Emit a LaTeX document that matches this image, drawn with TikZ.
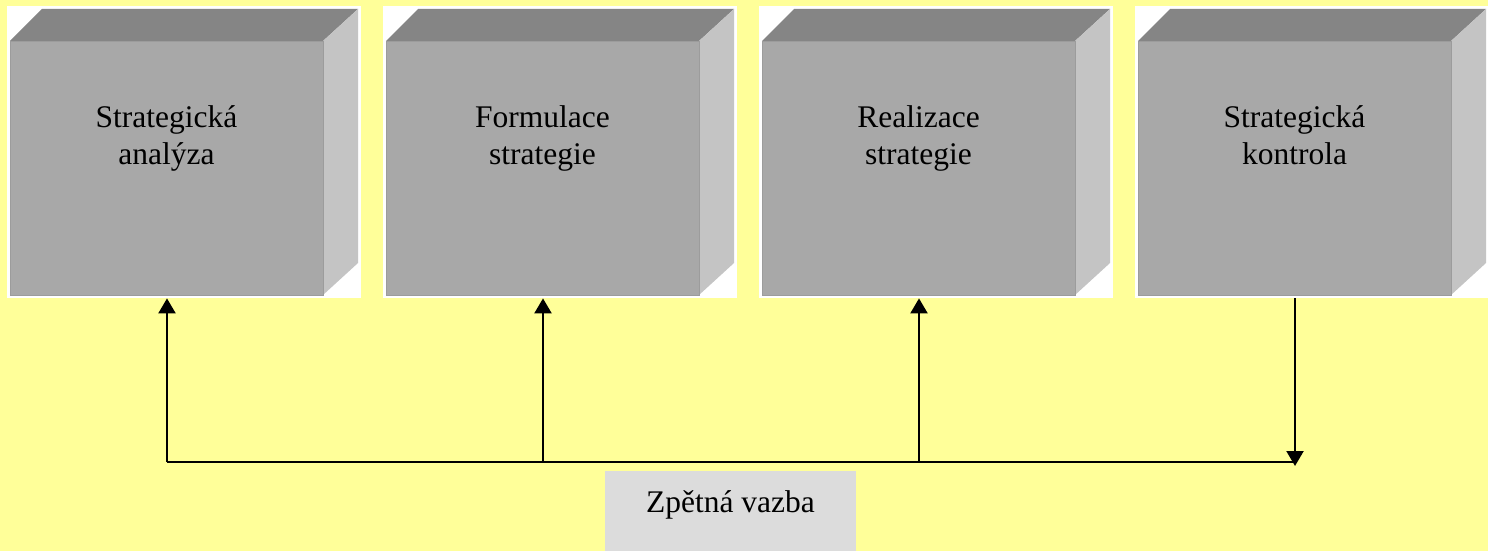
\documentclass[tikz,border=0pt]{standalone}
\usepackage{fontspec}
\setmainfont{Liberation Serif}
\usetikzlibrary{arrows.meta}
\definecolor{bg}{HTML}{FFFF99}
\definecolor{topc}{HTML}{858585}
\definecolor{frontc}{HTML}{A8A8A8}
\definecolor{sidec}{HTML}{C4C4C4}
\definecolor{edgec}{HTML}{9C9C9C}
\definecolor{fbc}{HTML}{DCDCDC}
\tikzset{
  whitebox/.style={fill=white, draw=none, minimum width=354pt, minimum height=292pt, anchor=north west, inner sep=0pt},
  frontface/.style={fill=frontc, draw=edgec, line width=1pt, minimum width=313pt, minimum height=254pt, anchor=north west, inner sep=0pt},
  topface/.style={fill=topc, draw=none},
  sideface/.style={fill=sidec, draw=none},
  boxtext/.style={font=\fontsize{31.5}{36.5}\selectfont, align=center, anchor=base, inner sep=0pt},
  conn/.style={line width=2.2pt, draw=black},
  arr/.style={conn, -{Triangle[width=17pt,length=15pt]}},
  fbbox/.style={fill=fbc, draw=none, minimum width=251pt, minimum height=80pt, anchor=north, inner sep=0pt},
}
\begin{document}
\begin{tikzpicture}[x=1pt,y=-1pt]
\useasboundingbox (0,0) rectangle (1488,551);
\fill[bg] (0,0) rectangle (1488,551);
\foreach \i/\t in {1/{Strategická\\analýza},2/{Formulace\\strategie},3/{Realizace\\strategie},4/{Strategická\\kontrola}}{
  \pgfmathsetmacro{\X}{376*(\i-1)}
  \node[whitebox] (w\i) at (\X+7,6) {};
  \fill[topc] (\X+10,41) -- (\X+42,9) -- (\X+358,9) -- (\X+323,41) -- cycle;
  \fill[sidec] (\X+323,41) -- (\X+358,9) -- (\X+358,263) -- (\X+323,295) -- cycle;
  \node[frontface] (b\i) at (\X+10,41) {};
  \node[boxtext] (t\i) at (\X+166.5,164) {\t};
}
\coordinate (bus) at (0,462);
\draw[conn] (b1.south|-bus) -- (b4.south|-bus);
\draw[arr] (b1.south|-bus) -- (b1.south|-w1.south);
\draw[arr] (b2.south|-bus) -- (b2.south|-w2.south);
\draw[arr] (b3.south|-bus) -- (b3.south|-w3.south);
\draw[arr, shorten >=-4pt] (b4.south|-w4.south) -- (b4.south|-bus);
\node[fbbox] (fb) at (730.5,471) {};
\node[boxtext] (fbt) at (fb.north|-0,512) {Zpětná vazba};
\end{tikzpicture}
\end{document}
